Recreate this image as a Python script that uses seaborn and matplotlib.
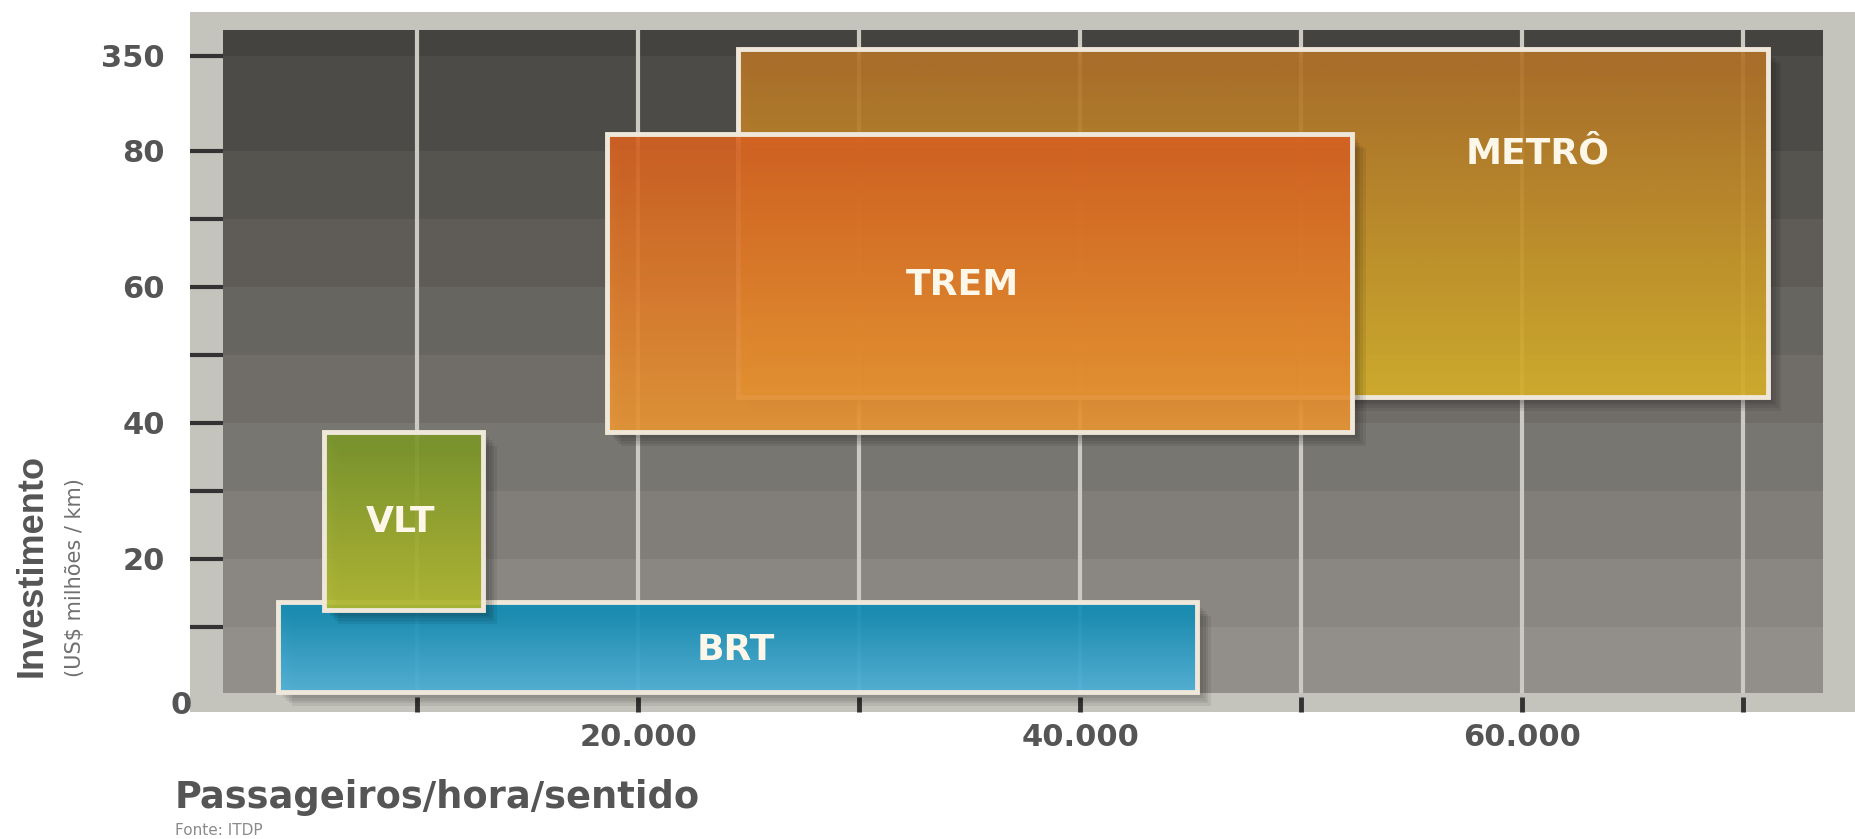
import numpy as np
import matplotlib
matplotlib.use("Agg")
import matplotlib.pyplot as plt
import matplotlib.patheffects as pe
from matplotlib.colors import LinearSegmentedColormap
import seaborn as sns

# ---- Data ----
# drawn back to front: METRÔ, TREM, BRT, VLT
modes = ["METRÔ", "TREM", "BRT", "VLT"]
pax_min = [24500, 18600, 3700, 5800]       # passageiros/hora/sentido
pax_max = [71100, 52300, 45300, 13000]
inv_min = [43.8, 38.6, 0.4, 12.5]          # US$ milhões / km (axis units, 94 = "350")
inv_max = [94.9, 82.4, 13.6, 38.7]
label_x = [60700, 34700, 24400, 9250]
label_y = [79.6, 60.3, 6.6, 25.4]

top_colors = ["#b5732a", "#d96222", "#0b8cb4", "#7b982a"]
bottom_colors = ["#dbb52a", "#ee9a36", "#52b7e0", "#b7be30"]

x_ticks = [10000, 20000, 30000, 40000, 50000, 60000, 70000]
x_ticklabels = ["", "20.000", "", "40.000", "", "60.000", ""]
y_ticks = [10, 20, 30, 40, 50, 60, 70, 80, 94]
y_ticklabels = ["", "20", "", "40", "", "60", "", "80", "350"]

# inner dark panel and its horizontal bands
panel_x = (1220, 73600)
band_edges = [0.3, 10, 20, 30, 40, 50, 60, 70, 80, 94, 97.8]

# ---- Style ----
sns.set_theme(style="white")
plt.rcParams["font.family"] = ["DejaVu Sans"]

fig = plt.figure(figsize=(18.56, 8.39), dpi=100)
ax = fig.add_axes([190 / 1856, 1 - 712 / 839, 1666 / 1856, 700 / 839])
ax.set_facecolor("#c4c3bc")
for s in ax.spines.values():
    s.set_visible(False)

# background bands (light at bottom, dark at top)
band_colors = sns.blend_palette(["#928f8a", "#45433f"], len(band_edges) - 1)
for lo, hi, c in zip(band_edges[:-1], band_edges[1:], band_colors):
    ax.fill_between(panel_x, lo, hi, color=c, linewidth=0, zorder=1)

# vertical grid lines
ax.vlines(x_ticks, band_edges[0], band_edges[-1], colors="#cbc9c2", linewidth=3, zorder=2)

# ---- Boxes ----
grad = np.linspace(0, 1, 256).reshape(-1, 1)
for i, mode in enumerate(modes):
    z = 3 + i
    w = pax_max[i] - pax_min[i]
    h = inv_max[i] - inv_min[i]
    base = ax.bar(pax_min[i], h, width=w, bottom=inv_min[i], align="edge",
                  color="none", linewidth=0, zorder=z)[0]
    base.set_path_effects([pe.SimplePatchShadow(offset=(k, -k), shadow_rgbFace="black", alpha=0.07)
                           for k in (2, 4, 6, 8, 10)])
    cmap = LinearSegmentedColormap.from_list(mode, [bottom_colors[i], top_colors[i]])
    im = ax.imshow(grad, cmap=cmap, origin="lower", aspect="auto",
                   extent=(pax_min[i], pax_max[i], inv_min[i], inv_max[i]),
                   alpha=0.9, zorder=z + 0.1, interpolation="bilinear")
    im.set_clip_path(base)
    ax.bar(pax_min[i], h, width=w, bottom=inv_min[i], align="edge",
           color="none", edgecolor="#efe8da", linewidth=3.5, zorder=z + 0.2)
    ax.text(label_x[i], label_y[i], mode, ha="center", va="center", fontsize=26,
            fontweight="bold", color="#fdf7ea", zorder=20)

# ---- Axes ----
ax.set_xlim(-270, 75100)
ax.set_ylim(-2.5, 100.4)
ax.set_xticks(x_ticks)
ax.set_xticklabels(x_ticklabels)
ax.set_yticks(y_ticks)
ax.set_yticklabels(y_ticklabels)
ax.tick_params(axis="y", direction="in", length=24, width=3, color="#333333",
               pad=18, labelsize=22, labelcolor="#555555", left=True)
ax.tick_params(axis="x", direction="in", length=11, width=3.5, color="#333333",
               pad=8, labelsize=22, labelcolor="#555555", bottom=True)
plt.setp(ax.get_xticklabels() + ax.get_yticklabels(), fontweight="bold")
ax.grid(False)
ax.text(-180, -1.5, "0", ha="right", va="center", fontsize=22, fontweight="bold",
        color="#555555", clip_on=False)

# ---- Labels ----
fig.text(32 / 1856, 1 - 677 / 839, "Investimento", rotation=90, ha="center", va="bottom",
         fontsize=26, fontweight="bold", color="#555555",
         family=["Liberation Sans", "DejaVu Sans"])
fig.text(75 / 1856, 1 - 677 / 839, "(US$ milhões / km)", rotation=90, ha="center",
         va="bottom", fontsize=15, color="#707070")
fig.text(175 / 1856, 1 - 808 / 839, "Passageiros/hora/sentido", ha="left", va="baseline",
         fontsize=26.5, fontweight="bold", color="#555555")
fig.text(175 / 1856, 1 - 835 / 839, "Fonte: ITDP", ha="left", va="baseline",
         fontsize=11, color="#8a8a8a")

fig.savefig("out.png", dpi=100)
